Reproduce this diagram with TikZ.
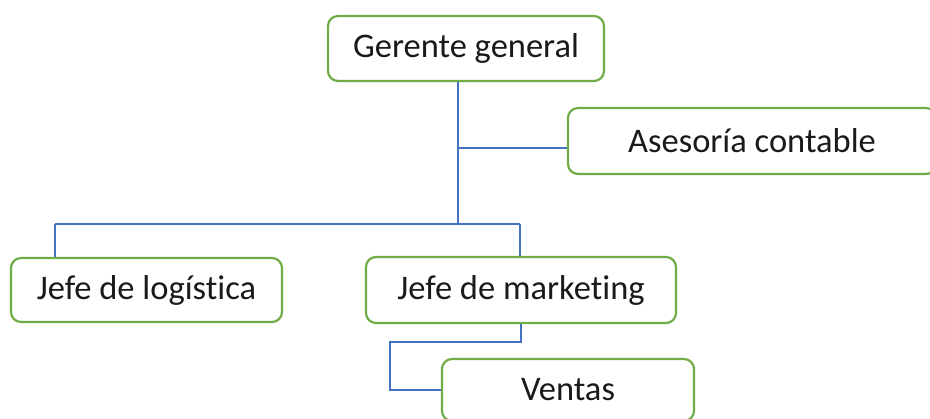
\documentclass[tikz,border=0pt]{standalone}
\usepackage{fontspec}
\setmainfont[Ligatures=NoCommon]{Carlito}
\definecolor{boxgreen}{RGB}{112,173,71}
\definecolor{linkblue}{RGB}{68,114,196}
\definecolor{ink}{RGB}{26,26,26}
\begin{document}
\begin{tikzpicture}[x=1pt,y=-1pt,
  unit/.style={draw=boxgreen, line width=2.2pt, rounded corners=10pt, fill=white,
    text=ink, font=\fontsize{34.5}{41}\selectfont, inner sep=0pt},
  link/.style={draw=linkblue, line width=1.8pt}]
\useasboundingbox (0,0) rectangle (930,419);
\clip (0,0) rectangle (930,419);
\fill[white] (0,0) rectangle (930,419);

% junction points of the connectors
\coordinate (j1) at (458,148);
\coordinate (j2) at (458,224);
\coordinate (lx) at (55,224);
\coordinate (mx) at (520,224);
\coordinate (k1) at (521,342);
\coordinate (k2) at (390,342);

% boxes
\node[unit, minimum width=276pt, minimum height=65pt] (G) at (466,48.5) {Gerente general};
\node[unit, minimum width=368pt, minimum height=66pt] (A) at (752,141) {Asesoría contable};
\node[unit, minimum width=271pt, minimum height=64pt] (L) at (146.5,290) {Jefe de logística};
\node[unit, minimum width=310pt, minimum height=66pt] (M) at (521,290) {Jefe de marketing};
\node[unit, minimum width=252pt, minimum height=62pt] (V) at (568,390) {Ventas};

% connectors
\draw[link] (G.south -| j1) -- (j2);
\draw[link] (j1) -- (j1 -| A.west);
\draw[link] (lx) -- (mx);
\draw[link] (lx) -- (lx |- L.north);
\draw[link] (mx) -- (mx |- M.north);
\draw[link] (M.south -| k1) -- (k1) -- (k2) -- (k2 |- V.west) -- (V.west);
\end{tikzpicture}
\end{document}
